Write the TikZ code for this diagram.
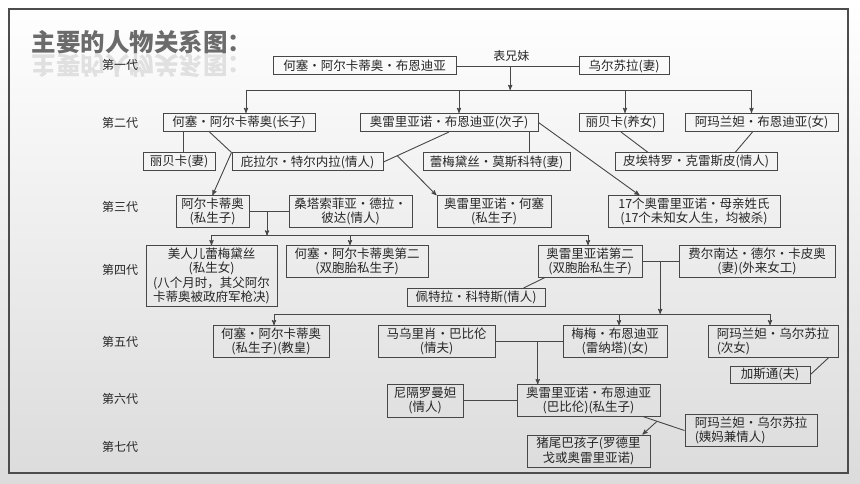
\documentclass[tikz,border=0pt]{standalone}
\usepackage{fontspec}
\setmainfont{Noto Sans CJK SC}
\usetikzlibrary{arrows,positioning,calc}
\tikzset{
 >=stealth',
 person/.style={shape=rectangle, draw=black!72, line width=1pt, text=black!85,
   inner xsep=3pt, inner ysep=2pt, minimum height=18pt, align=center,
   font=\fontsize{12.5}{14.5}\selectfont},
 gen/.style={shape=rectangle, text=black!85, font=\fontsize{12}{14}\selectfont},
 link/.style={draw=black!72, line width=0.9pt},
 elbow/.style={to path={-| (\tikztotarget)}}
}

\begin{document}
\begin{tikzpicture}[x=1pt,y=-1pt]
\useasboundingbox (0,0) rectangle (860,484);
\fill[top color=white, bottom color=black!14] (0,0) rectangle (860,484);
\draw[draw=black!70, line width=1.5pt] (9,9) rectangle (848,473);

%title and its reflection
\path (142,66) node[name=shadow,yscale=-1,text=black!12,font=\fontsize{24.5}{24.5}\selectfont\bfseries] {主要的人物关系图：};
\path (142,42) node[name=title,text=black!58,font=\fontsize{24.5}{24.5}\selectfont\bfseries] {主要的人物关系图：};

%generations
\path (120,65) node[gen,name=g1] {第一代};
\path (120,123) node[gen,name=g2] {第二代};
\path (120,207) node[gen,name=g3] {第三代};
\path (120,270) node[gen,name=g4] {第四代};
\path (120,342) node[gen,name=g5] {第五代};
\path (120,399) node[gen,name=g6] {第六代};
\path (120,447) node[gen,name=g7] {第七代};

%first generation
\path (364.5,66) node[person,name=jab,minimum width=183] {何塞・阿尔卡蒂奥・布恩迪亚};
\path (624,66) node[person,name=urs,minimum width=90] {乌尔苏拉(妻)};

%second generation
\path (239,122.5) node[person,name=ja,minimum width=152] {何塞・阿尔卡蒂奥(长子)};
\path (449,122.5) node[person,name=aurel,minimum width=178] {奥雷里亚诺・布恩迪亚(次子)};
\path (621,122.5) node[person,name=reb,minimum width=84] {丽贝卡(养女)};
\path (761.5,122.5) node[person,name=amar,minimum width=153] {阿玛兰妲・布恩迪亚(女)};

\path (179,161.5) node[person,name=reb2,minimum width=72] {丽贝卡(妻)};
\path (307.5,162) node[person,name=pilar,minimum width=151] {庇拉尔・特尔内拉(情人)};
\path (496.5,162) node[person,name=remed,minimum width=147] {蕾梅黛丝・莫斯科特(妻)};
\path (696,161.5) node[person,name=piet,minimum width=162] {皮埃特罗・克雷斯皮(情人)};

%third generation
\path (212.5,211.5) node[person,name=arc,minimum width=73] {阿尔卡蒂奥\\(私生子)};
\path (350.5,211.5) node[person,name=santa,minimum width=123] {桑塔索菲亚・德拉・\\彼达(情人)};
\path (494,211.5) node[person,name=aj,minimum width=114] {奥雷里亚诺・何塞\\(私生子)};
\path (694,211.5) node[person,name=seventeen,minimum width=172] {17个奥雷里亚诺・母亲姓氏\\(17个未知女人生，均被杀)};

%fourth generation
\path (211.5,276) node[person,name=bella,minimum width=131] {美人儿蕾梅黛丝\\(私生女)\\(八个月时，其父阿尔\\卡蒂奥被政府军枪决)};
\path (357,261.5) node[person,name=jas,minimum width=142] {何塞・阿尔卡蒂奥第二\\(双胞胎私生子)};
\path (590,261.5) node[person,name=as,minimum width=104] {奥雷里亚诺第二\\(双胞胎私生子)};
\path (757,261.5) node[person,name=fern,minimum width=156] {费尔南达・德尔・卡皮奥\\(妻)(外来女工)};
\path (476,297.5) node[person,name=petra,minimum width=138] {佩特拉・科特斯(情人)};

%fifth generation
\path (271,341.5) node[person,name=papa,minimum width=116] {何塞・阿尔卡蒂奥\\(私生子)(教皇)};
\path (436.5,341.5) node[person,name=mau,minimum width=117] {马乌里肖・巴比伦\\(情夫)};
\path (615,341.5) node[person,name=meme,minimum width=104] {梅梅・布恩迪亚\\(雷纳塔)(女)};
\path (773,341.5) node[person,name=amu,minimum width=130,align=left] {阿玛兰妲・乌尔苏拉\\(次女)};
\path (770,374.5) node[person,name=gaston,minimum width=80,minimum height=17] {加斯通(夫)};

%sixth and seventh generation
\path (425,400.5) node[person,name=nigro,minimum width=76,minimum height=33] {尼隔罗曼妲\\(情人)};
\path (588.5,400.5) node[person,name=aurb,minimum width=143] {奥雷里亚诺・布恩迪亚\\(巴比伦)(私生子)};
\path (751,430.5) node[person,name=amu2,minimum width=132,align=left] {阿玛兰妲・乌尔苏拉\\(姨妈兼情人)};
\path (588.5,451) node[person,name=pig,minimum width=123,minimum height=32] {猪尾巴孩子(罗德里\\戈或奥雷里亚诺)};

%junctions
\coordinate (m1) at ($(jab.east)!0.44!(urs.west)$);
\coordinate (bar1) at ($(m1)+(0,24)$);
\coordinate (ap) at ($(aurel.south)!0.79!(pilar.east)$);
\coordinate (m3) at ($(arc.east)!0.45!(santa.west)$);
\coordinate (bar3) at ($(m3)+(0,24)$);
\coordinate (m4) at ($(as.east)!0.49!(fern.west)$);
\coordinate (bar4) at ($(m4)+(0,52.5)$);
\coordinate (m5) at ($(mau.east)!0.63!(meme.west)$);
\coordinate (ph) at ($([xshift=-17pt]aurb.south east)!0.33!(amu2.west)$);

\path (jab) edge[link] node[gen,above=1pt,pos=0.45] {表兄妹} (urs);
\path (m1) edge[->,link] (bar1);
\path (bar1) edge[->,link,elbow] ([xshift=7pt]ja.north);
\path (bar1) edge[->,link,elbow] ([xshift=10pt]aurel.north);
\path (bar1) edge[->,link,elbow] ([xshift=4pt]reb.north);
\path (bar1) edge[->,link,elbow] ([xshift=-10pt]amar.north);

\path ([xshift=4pt]reb2.north) edge[link] ([xshift=4pt]reb2.north |- ja.south);
\path ([xshift=47pt]ja.south west) edge[link] (pilar.north west);
\path (pilar.north west) edge[->,link] (arc.north);
\path (aurel.south) edge[link] (pilar.east);
\path (ap) edge[->,link] (aj.north west);
\path ([xshift=-9pt]aurel.south east) edge[link] ([xshift=-9pt]aurel.south east |- remed.north);
\path (aurel.east) edge[->,link] ([xshift=32pt]seventeen.north west);
\path (reb.south) edge[link] ([xshift=33pt]piet.north west);
\path ([xshift=-9pt]amar.south) edge[link] ([xshift=-42pt]piet.north east);

\path (arc.east) edge[link] (santa.west);
\path (m3) edge[->,link] (bar3);
\path (bar3) edge[->,link,elbow] (bella.north);
\path (bar3) edge[->,link,elbow] ([xshift=-7pt]jas.north);
\path (bar3) edge[->,link,elbow] ([xshift=-2pt]as.north);

\path ([xshift=7pt]as.south west) edge[link] ([xshift=-22pt]petra.north east);
\path (as.east) edge[link] (fern.west);
\path (m4) edge[->,link] (bar4);
\path (bar4) edge[->,link,elbow] ([xshift=3pt]papa.north);
\path (bar4) edge[->,link,elbow] ([xshift=4pt]meme.north);
\path (bar4) edge[->,link,elbow] ([xshift=-3pt]amu.north);

\path (mau.east) edge[link] (meme.west);
\path (m5) edge[->,link] (m5 |- aurb.north);
\path ([xshift=-10pt]amu.south east) edge[link] (gaston.east);
\path (nigro.east) edge[link] (aurb.west);
\path ([xshift=-17pt]aurb.south east) edge[link] (amu2.west);
\path (ph) edge[->,link] ([xshift=-8pt]pig.north east);
\end{tikzpicture}
\end{document}
